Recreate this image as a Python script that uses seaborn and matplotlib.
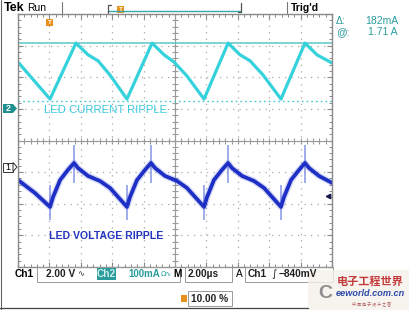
import matplotlib
matplotlib.use("Agg")
import matplotlib.pyplot as plt
import seaborn as sns
import numpy as np
from matplotlib.patches import Rectangle, Polygon

# ---------------- data (time in µs, amplitude in screen divisions) -------------
cur_t = [0.0, 2.04, 3.69, 4.46, 5.10, 5.86, 6.94, 8.54, 9.30, 9.94, 10.76, 11.85,
         13.38, 14.14, 14.78, 15.61, 16.75, 18.28, 19.04, 20.0]
cur_div = [2.48, 1.31, 3.08, 2.71, 2.52, 2.07, 1.31, 3.08, 2.71, 2.48, 2.04, 1.31,
           3.08, 2.71, 2.52, 2.07, 1.31, 3.08, 2.71, 2.45]

volt_t = [0.0, 1.08, 2.04, 2.23, 2.68, 3.18, 3.57, 3.82, 4.46, 5.22, 5.86, 6.94,
          7.13, 7.58, 8.09, 8.47, 8.73, 9.36, 10.13, 10.76, 11.85,
          12.04, 12.48, 12.99, 13.38, 13.63, 14.27, 15.03, 15.67, 16.75,
          16.94, 17.39, 17.90, 18.28, 18.54, 19.17, 20.0]
volt_div = [-1.25, -1.66, -2.10, -1.79, -1.25, -0.93, -0.71, -0.87, -1.12, -1.28, -1.50, -2.10,
            -1.79, -1.25, -0.93, -0.71, -0.87, -1.12, -1.28, -1.50, -2.10,
            -1.79, -1.25, -0.93, -0.71, -0.87, -1.12, -1.28, -1.50, -2.10,
            -1.79, -1.25, -0.93, -0.71, -0.87, -1.12, -1.34]

spike_t = [2.04, 6.94, 11.85, 16.75, 3.57, 8.47, 13.38, 18.28]
spike_lo = [-2.52, -2.52, -2.52, -2.52, -1.34, -1.34, -1.34, -1.34]
spike_hi = [-1.41, -1.41, -1.41, -1.41, -0.14, -0.14, -0.14, -0.14]

cursor_hi = 3.08
cursor_lo = 1.26
ch2_ref = 1.0
ch1_ref = -0.84
trig_level = -1.76
trig_pos = 2.04

cursor_delta = "182mA"
cursor_at = "1.71 A"
ch1_scale = "2.00 V"
ch2_scale = "100mA"
time_scale = "2.00µs"
trig_text = "−840mV"
trig_pct = "10.00 %"

# ---------------- styles ----------------
sns.set_theme(style="white")
plt.rcParams["font.family"] = ["Liberation Sans", "DejaVu Sans"]
FAM = ["Liberation Sans", "DejaVu Sans"]

W, H = 410, 310
fig = plt.figure(figsize=(W / 100, H / 100), dpi=100)
fig.patch.set_facecolor("white")

def P(x, y):
    return (x / W, 1 - y / H)

ax = fig.add_axes([18 / W, (H - 267) / H, 314 / W, 253 / H])
ax.set_xlim(0, 20)
ax.set_ylim(-4, 4)
ax.set_facecolor("white")

GRID = "#a9a9a9"
for s in ax.spines.values():
    s.set_color("#8a8a8a")
    s.set_linewidth(1.0)

ax.set_xticks(np.arange(0, 21, 2))
ax.set_yticks(np.arange(-4, 5, 1))
ax.set_xticks(np.arange(0, 20.01, 0.4), minor=True)
ax.set_yticks(np.arange(-4, 4.01, 0.2), minor=True)
ax.tick_params(which="both", direction="in", top=True, right=True, bottom=True, left=True,
               labelbottom=False, labelleft=False, color="#8a8a8a")
ax.tick_params(which="major", length=3.5, width=0.8)
ax.tick_params(which="minor", length=2.0, width=0.7)
ax.grid(True, which="major", color=GRID, linestyle=(0, (1, 4.2)), linewidth=0.9)

# centre cross with fine ticks
ax.axhline(0, color="#9a9a9a", lw=0.8)
ax.axvline(10, color="#9a9a9a", lw=0.8)
mx = np.arange(0, 20.01, 0.4)
ax.plot(mx, np.zeros_like(mx), ls="", marker="|", ms=4, color="#9a9a9a", mew=0.8)
my = np.arange(-4, 4.01, 0.2)
ax.plot(np.full_like(my, 10), my, ls="", marker="_", ms=4, color="#9a9a9a", mew=0.8)

# cursors
ax.axhline(cursor_hi, color="#5cc6c6", lw=1.1)
ax.axhline(cursor_lo, color="#40c8d0", lw=1.0, ls=(0, (1.2, 2.2)))

# traces
CYAN = "#36d2dc"
BLUE = "#1e2fc6"
sns.lineplot(x=cur_t, y=cur_div, ax=ax, color=CYAN, lw=2.3, estimator=None, sort=False)
ax.vlines(spike_t, spike_lo, spike_hi, color="#7f8fe6", lw=1.3, alpha=0.8)
sns.lineplot(x=volt_t, y=volt_div, ax=ax, color="#5566d8", lw=4.6, alpha=0.25,
             estimator=None, sort=False)
sns.lineplot(x=volt_t, y=volt_div, ax=ax, color=BLUE, lw=2.7, estimator=None, sort=False)
ax.set_xlabel("")
ax.set_ylabel("")

# trigger level arrow
ax.plot([19.72], [trig_level], marker="<", ms=3.2, color="#1a1a50", clip_on=False)

# trace labels
ax.text(5.55, 0.95, "LED CURRENT RIPPLE", color="#3ccbe0", fontsize=8.2,
        family=FAM, ha="center", va="center")
ax.text(5.6, -3.02, "LED VOLTAGE RIPPLE", color="#2436c0", fontsize=7.6,
        family=FAM, ha="center", va="center", weight="bold")

# ---------------- header ----------------
fig.text(*P(4, 8), "Tek", fontsize=9, weight="bold", color="black", va="center", family=FAM)
fig.text(*P(27, 8), "Run", fontsize=7.5, color="black", va="center", family=FAM)
fig.add_artist(plt.Line2D([62 / W, 62 / W], [1 - 2 / H, 1 - 13 / H], color="#777777", lw=0.8))
fig.add_artist(plt.Line2D([108 / W, 241 / W], [1 - 11 / H, 1 - 11 / H], color="#3aa6a6", lw=1.0))
fig.add_artist(plt.Line2D([108 / W, 108 / W], [1 - 5 / H, 1 - 13 / H], color="#555555", lw=0.9))
fig.add_artist(plt.Line2D([108 / W, 111 / W], [1 - 5 / H, 1 - 5 / H], color="#555555", lw=0.9))
fig.add_artist(plt.Line2D([241 / W, 241 / W], [1 - 3 / H, 1 - 12 / H], color="#555555", lw=0.9))
fig.add_artist(plt.Line2D([238 / W, 241 / W], [1 - 12 / H, 1 - 12 / H], color="#555555", lw=0.9))
fig.add_artist(plt.Line2D([287 / W, 287 / W], [1 - 2 / H, 1 - 13 / H], color="#777777", lw=0.8))
fig.text(*P(291, 8), "Trig'd", fontsize=7.5, weight="bold", color="black", va="center",
         family=FAM)

ORANGE = "#e8901c"

def tmark(x, y):
    fig.add_artist(Rectangle(P(x - 3.5, y + 4), 7 / W, 7 / H, facecolor=ORANGE,
                             edgecolor="none", transform=fig.transFigure))
    fig.add_artist(Polygon([P(x - 3.5, y - 3), P(x + 3.5, y - 3), P(x, y + 0.5)],
                           closed=True, facecolor=ORANGE, edgecolor="none",
                           transform=fig.transFigure))
    fig.text(*P(x, y + 0.8), "T", fontsize=4.5, color="white", weight="bold",
             ha="center", va="center")

tmark(121, 9)
tmark(50, 22)

TEAL = "#2a9c9c"
fig.text(*P(336, 21), "Δ:", fontsize=7.5, color=TEAL, va="center", family=FAM)
fig.text(*P(398, 21), cursor_delta, fontsize=7.5, color=TEAL, va="center", ha="right", family=FAM)
fig.text(*P(336, 32), "@:", fontsize=7.5, color=TEAL, va="center", family=FAM)
fig.text(*P(398, 32), cursor_at, fontsize=7.5, color=TEAL, va="center", ha="right", family=FAM)

# channel reference markers
fig.add_artist(Rectangle(P(3, 113), 10 / W, 9 / H, facecolor="#1f8f8f", edgecolor="none",
                         transform=fig.transFigure))
fig.add_artist(Polygon([P(13, 113), P(13, 104), P(17, 108.5)], closed=True,
                       facecolor="#1f8f8f", edgecolor="none", transform=fig.transFigure))
fig.text(*P(8, 108.5), "2", fontsize=6.5, color="white", weight="bold", ha="center", va="center")
fig.add_artist(Rectangle(P(3, 171.5), 10 / W, 9 / H, facecolor="white", edgecolor="#333333",
                         lw=0.7, transform=fig.transFigure))
fig.add_artist(Polygon([P(13, 171.5), P(13, 162.5), P(17, 167)], closed=True,
                       facecolor="white", edgecolor="#333333", lw=0.7, transform=fig.transFigure))
fig.text(*P(8, 167), "1", fontsize=6.5, color="black", ha="center", va="center")

# ---------------- status bar ----------------
def box(x0, y0, x1, y1, ec="#9a9a9a"):
    fig.add_artist(Rectangle(P(x0, y1), (x1 - x0) / W, (y1 - y0) / H, facecolor="none",
                             edgecolor=ec, lw=0.7, transform=fig.transFigure))

SB = 7.3
box(37, 267, 180, 282)
box(185, 267, 232, 282)
box(245, 267, 333, 282)
fig.text(*P(15, 274), "Ch1", fontsize=SB, weight="bold", color="black", va="center", family=FAM)
fig.text(*P(46, 274), ch1_scale, fontsize=SB, weight="bold", color="#222222", va="center",
         family=FAM)
fig.text(*P(77, 274), "∿", fontsize=6.0, color="#333333", va="center", family=["DejaVu Sans"])
fig.add_artist(Rectangle(P(97, 280), 19 / W, 12 / H, facecolor="#2a9c9c", edgecolor="none",
                         transform=fig.transFigure))
fig.text(*P(106.5, 274), "Ch2", fontsize=SB, weight="bold", color="#cfeeee", va="center",
         ha="center", family=FAM)
fig.text(*P(128, 274), ch2_scale, fontsize=7.0, weight="bold", color=TEAL, va="center",
         family=FAM)
fig.text(*P(161, 274), "Ω∿", fontsize=5.0, color=TEAL, va="center", family=["DejaVu Sans"])
fig.text(*P(173, 274), "M", fontsize=SB, weight="bold", color="black", va="center", family=FAM)
fig.text(*P(188, 274), time_scale, fontsize=SB, weight="bold", color="#222222", va="center",
         family=FAM)
fig.text(*P(236, 274), "A", fontsize=SB, color="black", va="center", family=FAM)
fig.text(*P(248, 274), "Ch1", fontsize=SB, weight="bold", color="#222222", va="center",
         family=FAM)
fig.text(*P(271, 274), "∫", fontsize=SB, color="#222222", va="center", family=["DejaVu Sans"])
fig.text(*P(279, 274), trig_text, fontsize=SB, weight="bold", color="#222222", va="center",
         family=FAM)

fig.add_artist(Rectangle(P(181, 302), 6 / W, 7 / H, facecolor=ORANGE, edgecolor="none",
                         transform=fig.transFigure))
box(188, 291, 232, 306)
fig.text(*P(191, 298.5), trig_pct, fontsize=SB, weight="bold", color="#222222", va="center",
         family=FAM)

# watermark
fig.add_artist(Rectangle(P(308, 310), 102 / W, 40 / H, facecolor="#f6f1ea", edgecolor="none",
                         alpha=0.8, transform=fig.transFigure))
fig.text(*P(325, 294), "C", fontsize=14, weight="bold", color="#8f8f8f", ha="center",
         va="center", family=FAM)
fig.text(*P(370, 281), "电子工程世界", fontsize=8, color="#c23a3a", ha="center", va="center",
         family=["Noto Sans CJK SC", "DejaVu Sans"], weight="bold")
fig.text(*P(370, 293.5), "eeworld.com.cn", fontsize=6.6, color="#2a4aa8", ha="center",
         va="center", style="italic", weight="bold", family=FAM)
fig.text(*P(372, 303.5), "中 国 电 子 设 计 之 窗", fontsize=3.0, color="#b06060", ha="center",
         va="center", family=["Noto Sans CJK SC", "DejaVu Sans"])

# outer frame (bottom-left edges)
fig.add_artist(plt.Line2D([0.8 / W, 0.8 / W], [0, 1], color="#666666", lw=0.8))
fig.add_artist(plt.Line2D([0, 308 / W], [1 - 307.5 / H, 1 - 307.5 / H], color="#444444", lw=0.9))

fig.savefig("out.png", dpi=100)
